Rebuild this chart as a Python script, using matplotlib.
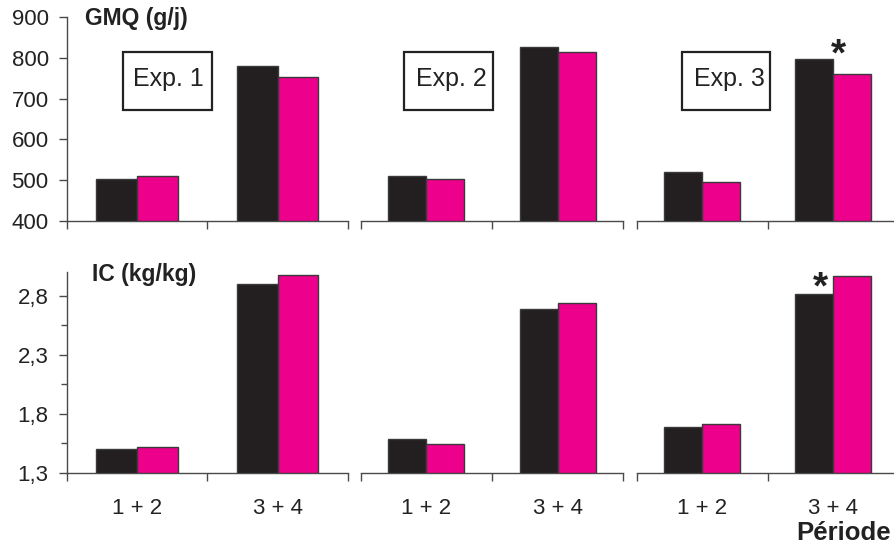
import matplotlib
matplotlib.use("Agg")
import matplotlib.pyplot as plt
from matplotlib.patches import Rectangle
import numpy as np

plt.rcParams['font.family'] = ['Liberation Sans', 'DejaVu Sans']

periods = ['1 + 2', '3 + 4']
experiments = ['Exp. 1', 'Exp. 2', 'Exp. 3']

gmq_black = [[503, 779], [511, 827], [519, 798]]
gmq_pink = [[510, 753], [503, 813], [496, 761]]
ic_black = [[1.50, 2.90], [1.585, 2.69], [1.69, 2.82]]
ic_pink = [[1.52, 2.98], [1.546, 2.74], [1.71, 2.967]]

gmq_ticks = [400, 500, 600, 700, 800, 900]
ic_ticks = [1.3, 1.8, 2.3, 2.8]
ic_ticklabels = ['1,3', '1,8', '2,3', '2,8']
ic_minor = [1.55, 2.05, 2.55]

BLACK = '#231f20'
PINK = '#ec008c'
EDGE = '#3a3a3a'
SPINE = '#4a4a4a'
TXT = '#222222'

W, H = 894, 546
fig = plt.figure(figsize=(W / 100, H / 100), dpi=100)

xs = [(66.7, 281.3), (360.7, 262.6), (636.7, 262.0)]
rows = [(221.0, 204.0), (472.7, 200.4)]

def fx(px):
    return px / W

def fy(py):
    return 1 - py / H

bw = 0.29
cats = np.arange(len(periods)) + 0.5

box_pos = [(0.199, 0.5155), (0.166, 0.505), (0.172, 0.509)]
text_x = [0.362, 0.3465, 0.354]

for r, (ybot, hgt) in enumerate(rows):
    for e in range(3):
        x0, wd = xs[e]
        ax = fig.add_axes([fx(x0), fy(ybot), wd / W, hgt / H])
        if r == 0:
            b, p = gmq_black[e], gmq_pink[e]
            ax.set_ylim(400, 900)
        else:
            b, p = ic_black[e], ic_pink[e]
            ax.set_ylim(1.3, 3.0)
        base = ax.get_ylim()[0]
        ax.bar(cats - bw / 2, np.array(b) - base, bw, bottom=base, color=BLACK,
               edgecolor=EDGE, linewidth=1.0, zorder=3)
        ax.bar(cats + bw / 2, np.array(p) - base, bw, bottom=base, color=PINK,
               edgecolor=EDGE, linewidth=1.0, zorder=3)
        ax.set_xlim(0, 2)
        for s in ['top', 'right']:
            ax.spines[s].set_visible(False)
        ax.spines['bottom'].set_color(SPINE)
        ax.spines['left'].set_color(SPINE)
        ax.spines['bottom'].set_linewidth(1.0)
        ax.spines['left'].set_linewidth(1.0)
        ax.set_xticks([0, 1, 2])
        ax.set_xticklabels([])
        ax.tick_params(axis='x', which='major', direction='out', length=6,
                       width=1.0, color=SPINE)
        if r == 1:
            ax.set_xticks(cats, minor=True)
            ax.set_xticklabels(periods, minor=True)
            ax.tick_params(axis='x', which='minor', length=0, pad=18,
                           labelsize=16, labelcolor=TXT)
        if e == 0:
            ax.tick_params(axis='y', direction='out', length=6, width=1.0,
                           color=SPINE, labelsize=16, labelcolor=TXT, pad=7)
            if r == 0:
                ax.set_yticks(gmq_ticks)
                ax.set_yticklabels([str(t) for t in gmq_ticks])
            else:
                ax.set_yticks(ic_ticks)
                ax.set_yticklabels(ic_ticklabels)
                ax.set_yticks(ic_minor, minor=True)
                ax.tick_params(axis='y', which='minor', direction='out',
                               length=4, width=1.0, color=SPINE)
        else:
            ax.spines['left'].set_visible(False)
            ax.set_yticks([])
        ax.patch.set_alpha(0)
        if r == 0:
            bx0, bx1 = box_pos[e]
            ax.add_patch(Rectangle((bx0, 0.544), bx1 - bx0, 0.827 - 0.544,
                                   transform=ax.transAxes, fill=False,
                                   edgecolor='#222222', linewidth=1.6,
                                   zorder=5, clip_on=False))
            ax.text(text_x[e], 0.696, experiments[e], transform=ax.transAxes,
                    ha='center', va='center', fontsize=18, color=TXT, zorder=6)
        if e == 2:
            if r == 0:
                ax.text(1.537, 805, '*', ha='center', va='center',
                        fontsize=28, fontweight='bold', color=TXT)
            else:
                ax.text(1.405, 2.863, '*', ha='center', va='center',
                        fontsize=28, fontweight='bold', color=TXT)

fig.text(fx(85), fy(19), 'GMQ (g/j)', ha='left', va='center', fontsize=16.5,
         fontweight='bold', color=TXT)
fig.text(fx(91.7), fy(275), 'IC (kg/kg)', ha='left', va='center', fontsize=16.5,
         fontweight='bold', color=TXT)
fig.text(fx(796.7), fy(533), 'Période', ha='left', va='center', fontsize=18.5,
         fontweight='bold', color=TXT)

fig.savefig('out.png', dpi=100)
